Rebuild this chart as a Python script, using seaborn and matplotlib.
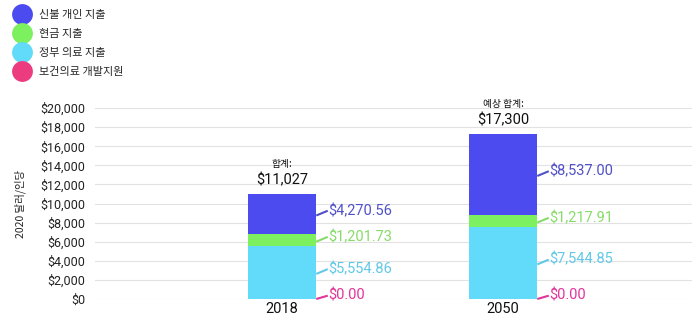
import matplotlib
matplotlib.use("Agg")
import matplotlib.pyplot as plt
import seaborn as sns
import pandas as pd
import numpy as np
from matplotlib.lines import Line2D

years = ["2018", "2050"]
series_names = ["신불 개인 지출", "현금 지출", "정부 의료 지출", "보건의료 개발지원"]
prepaid = [4270.56, 8537.00]
cash = [1201.73, 1217.91]
government = [5554.86, 7544.85]
dah = [0.00, 0.00]
totals = ["$11,027", "$17,300"]
total_titles = ["합계:", "예상 합계:"]
yticks = list(range(0, 20001, 2000))

colors = ["#4b4bef", "#7cf05e", "#62daf9", "#ec3c7f"]
text_colors = ["#5050c8", "#86dc68", "#62c8e8", "#e0359a"]

sns.set_theme(style="white")
plt.rcParams["font.family"] = ["Roboto", "Noto Sans CJK KR", "DejaVu Sans"]

fig = plt.figure(figsize=(6.99, 3.28), dpi=100)
ax = fig.add_axes([95 / 699, 1 - 299 / 328, 597 / 699, 191 / 328])

# stack order bottom -> top: dah, government, cash, prepaid
stack = [dah, government, cash, prepaid]
stack_colors = [colors[3], colors[2], colors[1], colors[0]]
stack_text = [text_colors[3], text_colors[2], text_colors[1], text_colors[0]]
cum = np.cumsum(np.array(stack), axis=0)

width = 0.31
for i in range(len(stack) - 1, -1, -1):
    df = pd.DataFrame({"year": years, "value": cum[i]})
    sns.barplot(data=df, x="year", y="value", color=stack_colors[i],
                saturation=1, width=width, ax=ax, zorder=3, linewidth=0)

ax.set_ylim(0, 20000)
ax.set_xlim(-0.846, 1.855)
ax.set_yticks(yticks)
ax.set_yticklabels([f"${v:,}" for v in yticks], fontsize=9, color="#222222")
ax.tick_params(axis="y", length=0, pad=7)
ax.tick_params(axis="x", length=0, pad=2, labelsize=10.5, labelcolor="#111111")
ax.set_xlabel("")
ax.set_ylabel("2020 달러/인당", fontsize=7.5, color="#222222", labelpad=10,
              family=["Noto Sans CJK KR", "DejaVu Sans"])
ax.yaxis.grid(True, color="#e2e2e2", linewidth=0.8, zorder=0)
for s in ax.spines.values():
    s.set_visible(False)

for j in range(len(years)):
    xr = j + width / 2
    for i in range(len(stack)):
        bottom = cum[i - 1][j] if i > 0 else 0
        val = stack[i][j]
        if val > 0:
            ymid = bottom + val / 2 - 150
            ylab = ymid + 500
        else:
            ymid = 0
            ylab = 350
        ax.plot([xr, xr + 0.052], [ymid, ylab], color=stack_text[i], lw=1.5,
                clip_on=False, zorder=4, solid_capstyle="butt")
        ax.text(xr + 0.054, ylab, f"${val:,.2f}", color=stack_text[i],
                fontsize=10.5, va="center", ha="left", family=["Roboto", "DejaVu Sans"])
    top = cum[-1][j]
    ax.text(j, top + 650, totals[j], ha="center", va="bottom", fontsize=10.5,
            color="#111111", clip_on=False)
    ax.text(j, top + 2600, total_titles[j], ha="center", va="bottom", fontsize=7,
            color="#111111", clip_on=False, family=["Noto Sans CJK KR", "DejaVu Sans"])

handles = [Line2D([0], [0], marker="o", color="none", markerfacecolor=c,
                  markeredgecolor="none", markersize=15) for c in colors]
fig.legend(handles, series_names, loc="upper left", bbox_to_anchor=(0.012, 0.99),
           frameon=False, handletextpad=1.0, labelspacing=0.8,
           handlelength=1.2, borderaxespad=0.2,
           prop={"family": ["Noto Sans CJK KR", "DejaVu Sans"], "size": 8})

fig.savefig("out.png", dpi=100)
